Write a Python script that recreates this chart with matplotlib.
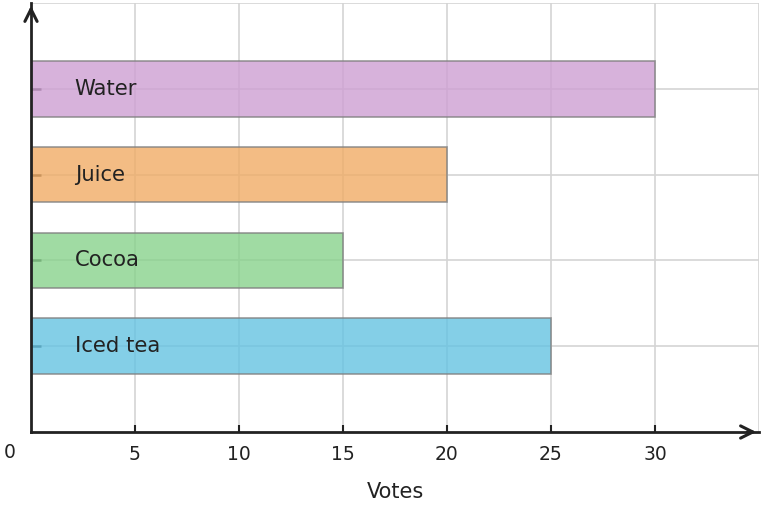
import matplotlib
matplotlib.use("Agg")
import matplotlib.pyplot as plt

categories = ["Iced tea", "Cocoa", "Juice", "Water"]
votes = [25, 15, 20, 30]
colors = ["#65c3e2", "#88d28c", "#f0ac66", "#ce9fd3"]
xticks = [5, 10, 15, 20, 25, 30]

fig = plt.figure(figsize=(7.63, 5.08), dpi=100)
ax = fig.add_axes([31/763, 76/508, 728/763, 429/508])

ypos = list(range(1, len(categories) + 1))
ax.barh(ypos, votes, height=0.65, color=colors, alpha=0.8,
        edgecolor="#808080", linewidth=1.2, zorder=2)
for y, name in zip(ypos, categories):
    ax.text(2.1, y, name, va="center", ha="left", fontsize=15.2, color="#222222", zorder=3)

ax.set_xlim(0, 35)
ax.set_ylim(0, 5)
ax.set_xticks(xticks + [35])
ax.set_xticklabels([str(t) for t in xticks] + [""])
ax.set_yticks([1, 2, 3, 4, 5])
ax.set_yticklabels([])
ax.grid(True, color="#d4d4d4", linewidth=1.2, zorder=0)
ax.set_axisbelow(True)
ax.tick_params(axis="x", direction="in", length=5, width=1.5, color="#222222",
               labelsize=13.5, labelcolor="#222222", pad=9)
ax.tick_params(axis="y", direction="in", length=7, width=1.8, color="#333333")
for s in ["top", "right"]:
    ax.spines[s].set_visible(False)
for s in ["left", "bottom"]:
    ax.spines[s].set_color("#222222")
    ax.spines[s].set_linewidth(2)
    ax.spines[s].set_zorder(4)
ax.yaxis.get_major_ticks()[-1].tick1line.set_visible(False)
ax.xaxis.get_major_ticks()[-1].tick1line.set_visible(False)

ax.annotate("0", xy=(0, 0), xytext=(-21, -21), textcoords="offset pixels",
            fontsize=13.5, color="#222222", ha="center", va="center",
            annotation_clip=False)
ax.set_xlabel("Votes", fontsize=15, color="#222222", labelpad=13)

ax.annotate("", xy=(1.0, 0), xytext=(0.98, 0), xycoords="axes fraction",
            arrowprops=dict(arrowstyle="->", color="#222222", lw=2.2, mutation_scale=22),
            annotation_clip=False, zorder=5)
ax.annotate("", xy=(0, 1.0), xytext=(0, 0.97), xycoords="axes fraction",
            arrowprops=dict(arrowstyle="->", color="#222222", lw=2.2, mutation_scale=22),
            annotation_clip=False, zorder=5)

fig.savefig("out.png", dpi=100)
